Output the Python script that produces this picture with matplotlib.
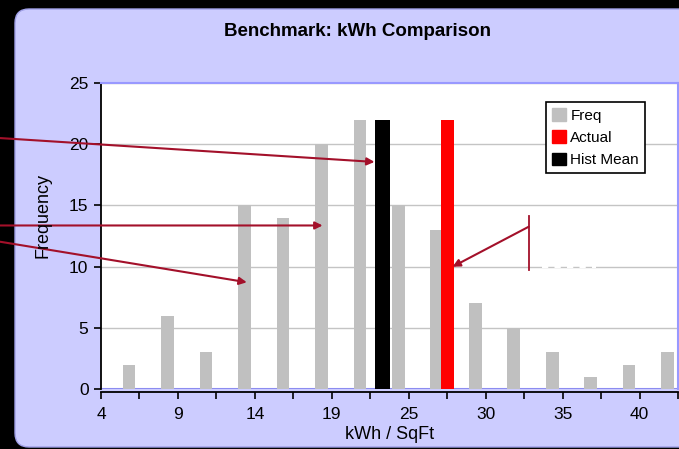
import numpy as np
import matplotlib
matplotlib.use('Agg')
from matplotlib import pyplot as plt
from matplotlib.patches import FancyBboxPatch, Patch

plt.rcParams['font.family'] = ['Liberation Sans', 'DejaVu Sans']

# data (x in category units of the histogram axis)
freq = [2, 6, 3, 15, 14, 20, 22, 15, 13, 7, 5, 3, 1, 2, 3]
tick_labels = ['4', '', '9', '', '14', '', '19', '', '25', '', '30', '', '35', '', '40', '']
hist_mean_x = 7.31
hist_mean_val = 22
actual_x = 9.01
actual_val = 22

fig = plt.figure(figsize=(6.79, 4.49), dpi=100)
fig.patch.set_facecolor('black')

# background panel, drawn in pixel units
bg = fig.add_axes([0, 0, 1, 1])
bg.set_xlim(0, 679)
bg.set_ylim(449, 0)
bg.axis('off')
panel = FancyBboxPatch((15, 9), 720, 438, boxstyle='round,pad=0,rounding_size=14',
                       facecolor='#ccccff', edgecolor='#a0a0e8', lw=1)
bg.add_patch(panel)

ax = fig.add_axes([101/679, 1-389/449, 577/679, 306/449])
ax.set_facecolor('white')

x = np.arange(len(freq))
ax.bar(x + 0.73, freq, width=0.33, color='#c0c0c0', zorder=2)
ax.bar(hist_mean_x, hist_mean_val, width=0.39, color='black', zorder=3)
ax.bar(actual_x, actual_val, width=0.345, color='#ff0000', zorder=3)

ax.set_xlim(0, 15)
ax.set_ylim(0, 25)
ax.set_yticks(range(0, 26, 5))
ax.set_xticks(range(0, 16))
ax.set_xticklabels(tick_labels)
ax.tick_params(axis='both', labelsize=12.5, length=5, width=1.2, color='black', pad=4)
ax.tick_params(axis='x', pad=6)
ax.yaxis.grid(True, color='#c4c4c4', lw=1, zorder=0)
ax.set_axisbelow(True)

for s in ['top', 'right']:
    ax.spines[s].set_color('#9999ff')
    ax.spines[s].set_linewidth(1.5)
ax.spines['left'].set_color('black')
ax.spines['left'].set_linewidth(1.3)
ax.spines['bottom'].set_color('black')
ax.spines['bottom'].set_linewidth(1.3)
ax.spines['bottom'].set_position(('outward', 2))
ax.axhline(0, color='#8c8cf0', lw=1.5, zorder=1)

ax.set_xlabel('kWh / SqFt', fontsize=13, labelpad=3)
fig.text(43/679, 1-215/449, 'Frequency', rotation=90, fontsize=13,
         ha='center', va='center')
fig.text(357/679, 1-32/449, 'Benchmark: kWh Comparison', fontsize=13.5,
         fontweight='bold', ha='center', va='center')

handles = [Patch(color='#c0c0c0', label='Freq'),
           Patch(color='#ff0000', label='Actual'),
           Patch(color='black', label='Hist Mean')]
leg = ax.legend(handles=handles, loc='upper left', bbox_to_anchor=(0.771, 0.938),
                borderaxespad=0, fancybox=False, edgecolor='black', framealpha=1,
                fontsize=11, handlelength=0.9, handleheight=0.9, handletextpad=0.3,
                borderpad=0.4, labelspacing=0.5)
leg.get_frame().set_linewidth(1.2)

# annotation arrows
arrow_color = '#a3102a'
arrows = [((-2.62, 20.5), (7.11, 18.55)),
          ((-2.62, 13.36), (5.76, 13.36)),
          ((-2.62, 12.03), (3.79, 8.72)),
          ((11.12, 13.26), (9.14, 9.99))]
for start, end in arrows:
    ax.annotate('', xy=end, xytext=start, annotation_clip=False,
                arrowprops=dict(arrowstyle='-|>', color=arrow_color, lw=1.5,
                                mutation_scale=11, shrinkA=0, shrinkB=0),
                zorder=5)
ax.plot([11.12, 11.12], [14.16, 9.72], color=arrow_color, lw=1.3, zorder=5)
ax.plot([11.47, 12.87], [10, 10], color='white', lw=1.5, ls=(0, (3, 3)), zorder=4)

fig.savefig('out.png', dpi=100, facecolor=fig.get_facecolor())
